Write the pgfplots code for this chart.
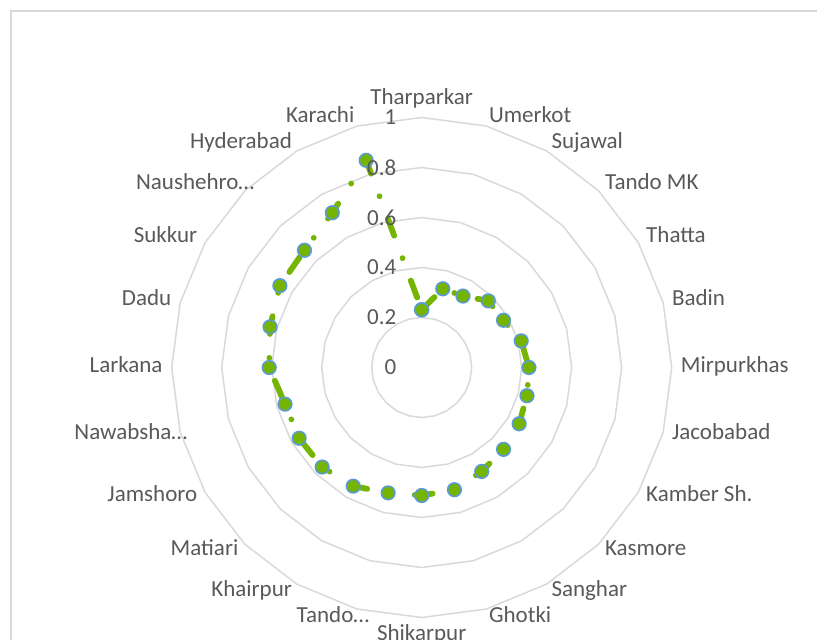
\documentclass[border=0pt]{standalone}
\usepackage{fontspec}
\setmainfont{Carlito}
\usepackage{pgfplots}
\usepackage{pgfplotstable}
\pgfplotsset{compat=1.18}
\usepgfplotslibrary{polar}

\definecolor{ringgray}{HTML}{D9D9D9}
\definecolor{labgray}{HTML}{595959}
\definecolor{sergreen}{RGB}{117,180,0}
\definecolor{markblue}{HTML}{5B9BD5}

% idx 0 = Tharparkar at the top, going clockwise; last row closes the loop
\pgfplotstableread{
idx value
0  0.231
1  0.326
2  0.330
3  0.377
4  0.378
5  0.412
6  0.429
7  0.436
8  0.450
9  0.463
10 0.480
11 0.506
12 0.512
13 0.519
14 0.548
15 0.563
16 0.566
17 0.566
18 0.610
19 0.628
20 0.655
21 0.663
22 0.715
23 0.858
24 0.231
}\sindh

\begin{document}
\begin{tikzpicture}[font=\fontsize{11.5}{13.8}\selectfont, text=labgray]
% page = 817 x 639 px at 0.5pt per px, centre of the radar at (0,0)
\useasboundingbox (-210.85pt,-135.75pt) rectangle (197.65pt,183.75pt);
\draw[ringgray, line width=1pt] (-205.35pt,-150pt) |- (220pt,178.25pt);

\begin{axis}[
    anchor=origin, at={(0,0)},
    x=125pt, y=125pt,
    xmin=-1.2, xmax=1.2, ymin=-1.2, ymax=1.2,
    hide axis, clip=false,
]
\pgfplotsinvokeforeach{0.2,0.4,0.6,0.8,1}{
  \addplot[ringgray, line width=0.75pt, mark=none, data cs=polar]
    table[x expr={90-15*\thisrow{idx}}, y expr=#1] {\sindh};
}
\addplot[sergreen, line width=2.9pt, line cap=round, line join=round,
    dash pattern=on 9pt off 12pt on 0pt off 12pt,
    data cs=polar,
    mark=*, mark size=3.4pt,
    mark options={solid, fill=sergreen, draw=markblue, line width=0.8pt}]
  table[x expr={90-15*\thisrow{idx}}, y=value] {\sindh};
\end{axis}

\foreach \v in {0,0.2,0.4,0.6,0.8,1}
  \node[anchor=east, inner sep=0pt] at (-12.5pt,{\v*125pt}) {\v};

% truncated names sit a little further out, as in the reference
\foreach \a/\anc/\dx/\name in {
   90/south/0/Tharparkar, 75/west/0/Umerkot, 60/west/0/Sujawal, 45/west/0/Tando MK,
   30/west/0/Thatta, 15/west/0/Badin, 0/west/0/Mirpurkhas, -15/west/0/Jacobabad,
   -30/west/0/Kamber Sh., -45/west/0/Kasmore, -60/west/0/Sanghar, -75/west/0/Ghotki,
   -90/north/0/Shikarpur, -105/east/7.5/Tando…, -120/east/0/Khairpur, -135/east/0/Matiari,
   -150/east/0/Jamshoro, -165/east/8/Nawabsha…, -180/east/0/Larkana, -195/east/0/Dadu,
   -210/east/0/Sukkur, -225/east/8/Naushehro…, -240/east/0/Hyderabad, -255/east/0/Karachi}
  \node[anchor=\anc, inner sep=0pt, text height=0.68em, text depth=0.2em, xshift=\dx pt]
    at (\a:129.4pt) {\name};
\end{tikzpicture}
\end{document}
